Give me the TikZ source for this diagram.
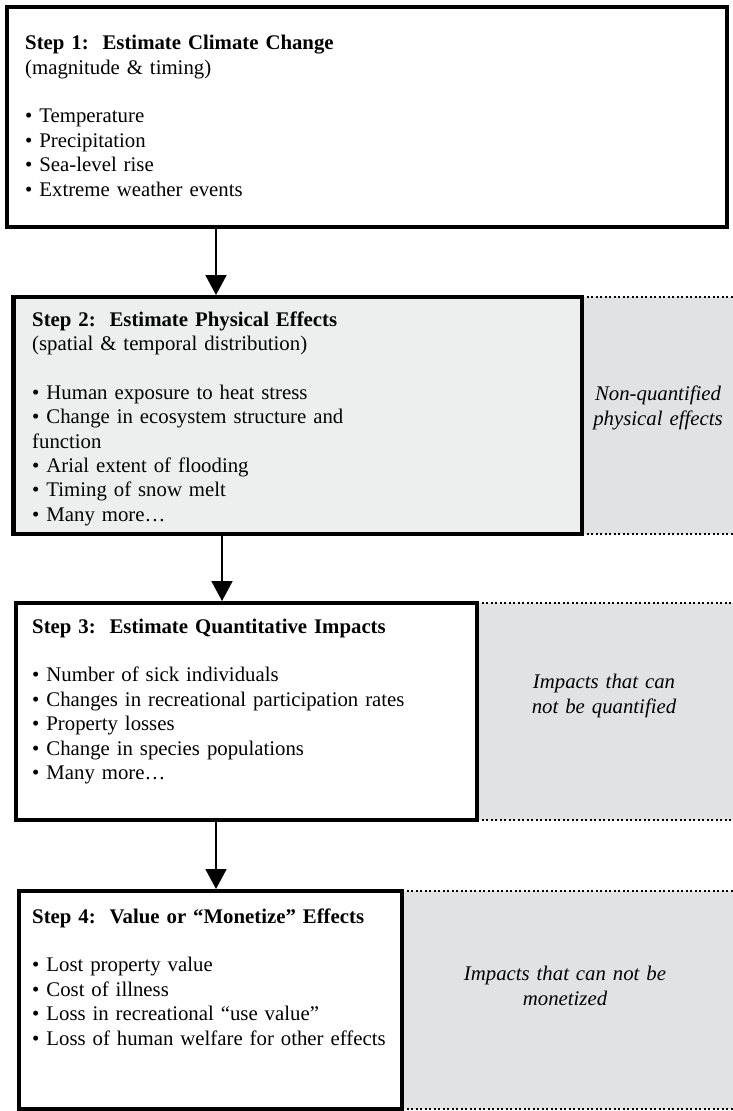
\documentclass[tikz,border=0pt]{standalone}
\usepackage{fontspec}
\setmainfont{Liberation Serif}
\usetikzlibrary{arrows.meta,positioning}
\definecolor{stepgrey}{HTML}{EDEFEE}
\definecolor{sidegrey}{HTML}{E1E2E4}

\begin{document}
\begin{tikzpicture}[x=1pt, y=-1pt, >={Triangle[length=20pt,width=21pt]},
  every node/.style={font=\fontsize{20.8}{24.4}\selectfont},
  stepbox/.style={draw, line width=4.5pt, inner sep=0pt, outer sep=0pt, anchor=north west},
  sidebox/.style={fill=sidegrey, inner sep=0pt, outer sep=0pt, anchor=north west},
  steptext/.style={anchor=base west, align=left, text width=450pt, inner sep=0pt},
  sidetext/.style={anchor=base, align=center, inner sep=0pt, font=\fontsize{20.8}{25}\selectfont\itshape},
  dotline/.style={line width=2pt, dash pattern=on 2pt off 2.5pt},
  flow/.style={->, line width=2pt, shorten >=2pt}]
  \useasboundingbox (0,0) rectangle (733,1111);

  \node[sidebox, minimum width=151pt, minimum height=237pt] (side2) at (582,297) {};
  \node[sidebox, minimum width=256pt, minimum height=217pt] (side3) at (477,603) {};
  \node[sidebox, minimum width=331pt, minimum height=218pt] (side4) at (402,891) {};

  \node[stepbox, fill=white, minimum width=720pt, minimum height=220pt] (box1) at (7,7) {};
  \node[stepbox, fill=stepgrey, minimum width=568.5pt, minimum height=237pt] (box2) at (13.5,297) {};
  \node[stepbox, fill=white, minimum width=461pt, minimum height=217pt] (box3) at (16,603) {};
  \node[stepbox, fill=white, minimum width=383pt, minimum height=218pt] (box4) at (19,891) {};

  \draw[dotline] (side2.north west) -- (side2.north east) (side2.south west) -- (side2.south east);
  \draw[dotline] (side3.north west) -- (side3.north east) (side3.south west) -- (side3.south east);
  \draw[dotline] (side4.north west) -- (side4.north east) (side4.south west) -- (side4.south east);

  \node[steptext] (text1) at (25,49.6) {\textbf{Step 1:\ \ Estimate Climate Change}\\(magnitude \& timing)\\[24.4pt]• Temperature\\• Precipitation\\• Sea-level rise\\• Extreme weather events};
  \node[steptext] (text2) at (32,326) {\textbf{Step 2:\ \ Estimate Physical Effects}\\(spatial \& temporal distribution)\\[24.4pt]• Human exposure to heat stress\\• Change in ecosystem structure and\\function\\• Arial extent of flooding\\• Timing of snow melt\\• Many more…};
  \node[steptext] (text3) at (32,633) {\textbf{Step 3:\ \ Estimate Quantitative Impacts}\\[24.4pt]• Number of sick individuals\\• Changes in recreational participation rates\\• Property losses\\• Change in species populations\\• Many more…};
  \node[steptext] (text4) at (32,923) {\textbf{Step 4:\ \ Value or “Monetize” Effects}\\[24.4pt]• Lost property value\\• Cost of illness\\• Loss in recreational “use value”\\• Loss of human welfare for other effects};

  \node[sidetext, text width=150pt] (note2) at (658,400) {Non-quantified\\physical effects};
  \node[sidetext, text width=250pt] (note3) at (604,688) {Impacts that can\\not be quantified};
  \node[sidetext, text width=320pt] (note4) at (565,980) {Impacts that can not be\\monetized};

  \coordinate (col1) at (216,0);
  \coordinate (col2) at (222,0);
  \coordinate (col3) at (216,0);
  \draw[flow] (box1.south -| col1) -- (box2.north -| col1);
  \draw[flow] (box2.south -| col2) -- (box3.north -| col2);
  \draw[flow] (box3.south -| col3) -- (box4.north -| col3);
\end{tikzpicture}
\end{document}
